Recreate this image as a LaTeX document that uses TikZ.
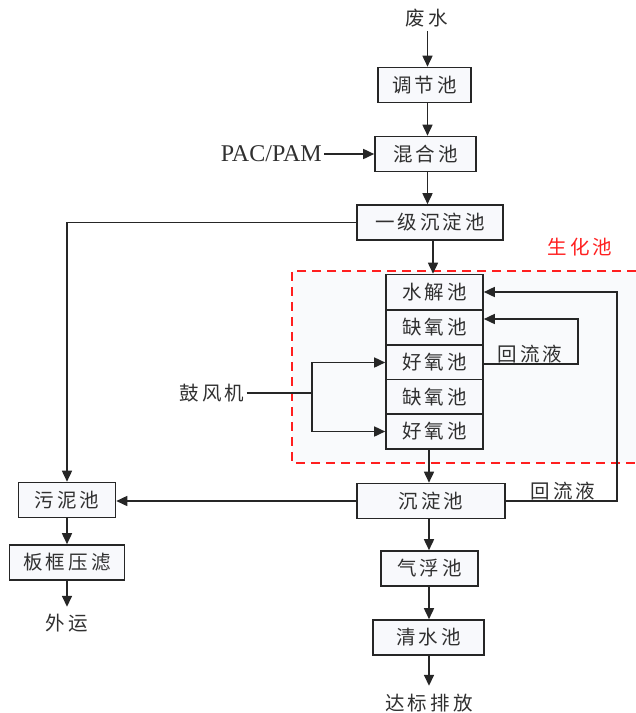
\documentclass[tikz,border=0pt]{standalone}
\usepackage{fontspec}
\usetikzlibrary{arrows.meta,calc}
\newfontfamily\cjk[LetterSpace=16]{Noto Sans CJK SC}
\newfontfamily\latinf{Liberation Serif}
\definecolor{lineC}{HTML}{262626}
\definecolor{boxF}{HTML}{F8F9FC}
\definecolor{regF}{HTML}{F9FAFC}
\definecolor{redC}{HTML}{FF1F1F}
\definecolor{txtC}{HTML}{303030}
\tikzset{
  pbox/.style={draw=lineC,line width=1.6pt,fill=boxF,inner sep=0pt,minimum height=35pt,
    font=\cjk\fontsize{19.5}{21}\selectfont,text=txtC},
  cell/.style={pbox,minimum width=97pt,minimum height=35pt},
  lbl/.style={inner sep=0pt,font=\cjk\fontsize{19.5}{21}\selectfont,text=txtC},
  conn/.style={draw=lineC,line width=1.6pt},
  arr/.style={conn,-{Triangle[length=11pt,width=10pt]}}
}
\begin{document}
\begin{tikzpicture}[x=1pt,y=-1pt]
\useasboundingbox (0,0) rectangle (636,713);
% bio region
\fill[regF] (292,271) rectangle (636,463);
\draw[redC,line width=1.4pt,dash pattern=on 9pt off 6pt] (636,271) -- (292,271) -- (292,463) -- (636,463);
\node[lbl,text=redC] (shc) at (580,247) {生化池};

\node[lbl] (fs) at (427,18) {废水};
\node[pbox,minimum width=93pt] (tj) at (424.5,85) {调节池};
\node[pbox,minimum width=101pt] (hh) at (425.5,154) {混合池};
\node[inner sep=0pt,font=\latinf\fontsize{24}{26}\selectfont,text=txtC,anchor=east] (pac) at (322,154) {PAC/PAM};
\node[pbox,minimum width=146pt] (yj) at (430,222.5) {一级沉淀池};

\node[cell] (sj) at (434.5,292) {水解池};
\node[cell] (qy1) at (434.5,327.5) {缺氧池};
\node[cell] (hy1) at (434.5,362.5) {好氧池};
\node[cell] (qy2) at (434.5,397) {缺氧池};
\node[cell] (hy2) at (434.5,431.5) {好氧池};

\node[lbl] (gf) at (212,393) {鼓风机};
\node[lbl] (hl1) at (530,354) {回流液};
\node[lbl] (hl2) at (563,491) {回流液};

\node[pbox,minimum width=148pt] (cd) at (431,501) {沉淀池};
\node[pbox,minimum width=97pt] (wn) at (67,500) {污泥池};
\node[pbox,minimum width=115pt] (bk) at (67,562.5) {板框压滤};
\node[lbl] (wy) at (67,623) {外运};
\node[pbox,minimum width=97pt] (qf) at (429.5,568.5) {气浮池};
\node[pbox,minimum width=111pt] (qs) at (428.5,637.5) {清水池};
\node[lbl] (db) at (429,703) {达标排放};

% main flow
\coordinate (c1) at (427.5,0);
\coordinate (c2) at (429,0);
\draw[arr] (fs.south -| c1) ++(0,4) -- (tj.north -| c1);
\draw[arr] (tj.south -| c1) -- (hh.north -| c1);
\draw[arr] (pac.east) ++(2,0) -- (hh.west);
\draw[arr] (hh.south -| c1) -- (yj.north -| c1);
\draw[arr] (yj.south -| 433,0) -- (sj.north -| 433,0);
\draw[arr] (hy2.south -| c2) -- (cd.north -| c2);
\draw[arr] (cd.south -| c2) -- (qf.north -| c2);
\draw[arr] (qf.south -| c2) -- (qs.north -| c2);
\draw[arr] (qs.south -| c2) -- ($(db.north -| c2)+(0,-8)$);

% sludge
\draw[arr] (yj.west) -| (wn.north);
\draw[arr] (cd.west) -- (cd.west -| wn.east);
\draw[arr] (wn.south) -- (bk.north);
\draw[arr] (bk.south) -- ($(wy.north)+(0,-7)$);

% blower
\coordinate (b1) at (312,393);
\draw[conn] (gf.east) ++(2,0) -- (b1);
\draw[arr] (b1) |- (hy1.west);
\draw[arr] (b1) |- (hy2.west);

% recycle loops
\coordinate (r2) at (578,364);
\draw[arr] (hy1.east) ++(0,1.5) -- (r2) |- ($(qy1.east)+(0,-8.5)$);
\coordinate (r1) at (617,501);
\draw[arr] (cd.east) -- (r1) |- (sj.east);
\end{tikzpicture}
\end{document}
